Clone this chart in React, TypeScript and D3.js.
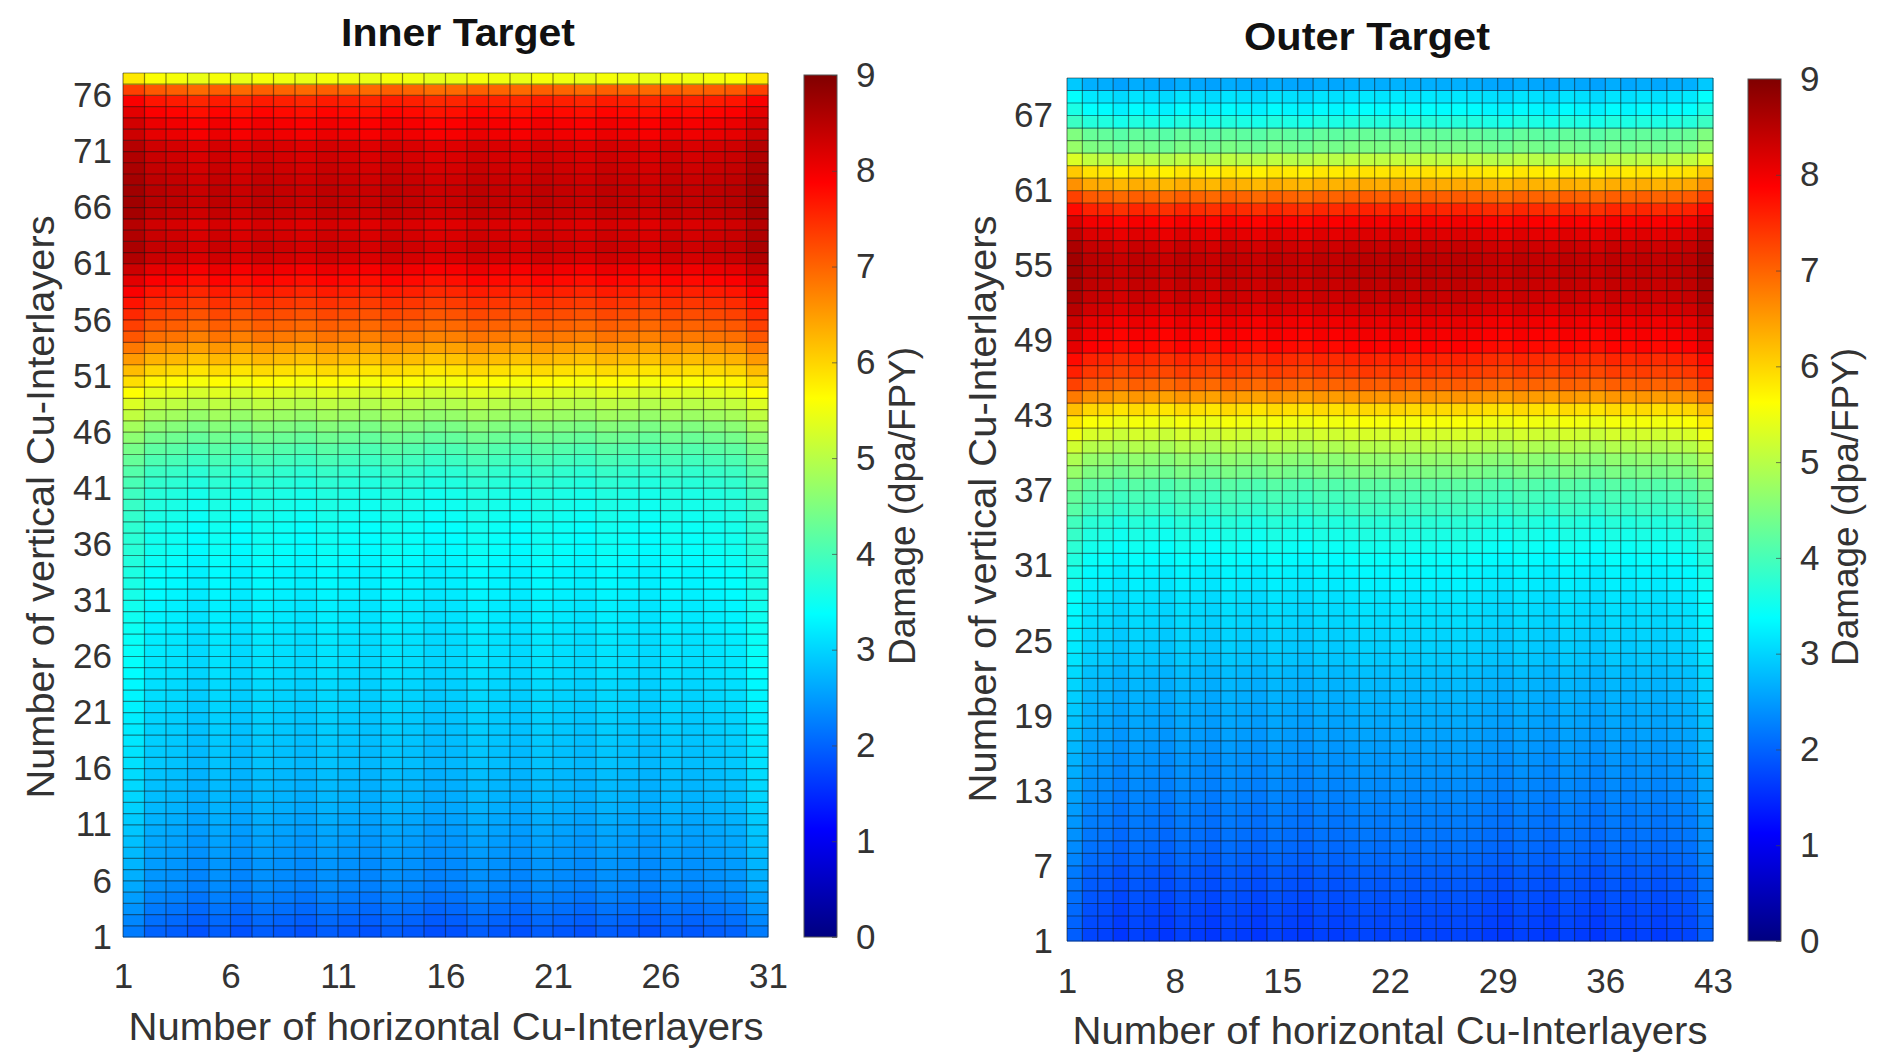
import React, { useEffect, useRef } from 'react';
import * as d3 from 'd3';

// damage per row (bottom row first)
const innerRows = [
  1.9, 2.0, 2.1, 2.2, 2.3, 2.35, 2.4, 2.45, 2.5, 2.55,
  2.6, 2.65, 2.7, 2.72, 2.75, 2.8, 2.82, 2.85, 2.88, 2.9,
  2.95, 2.98, 3.0, 3.05, 3.08, 3.1, 3.12, 3.15, 3.18, 3.2,
  3.25, 3.28, 3.3, 3.35, 3.4, 3.42, 3.45, 3.5, 3.55, 3.6,
  3.7, 3.8, 3.95, 4.1, 4.3, 4.5, 4.75, 5.0, 5.3, 5.6,
  5.9, 6.2, 6.5, 6.8, 7.0, 7.2, 7.4, 7.6, 7.8, 8.0,
  8.25, 8.3, 8.25, 8.2, 8.35, 8.4, 8.4, 8.35, 8.3, 8.25,
  8.2, 8.0, 7.95, 7.8, 7.6, 7.0, 5.5,
];
// deviation of each column from the row value
const innerCols = [
  0.32, 0.1, 0.05, -0.05, 0.05, -0.05, 0.05, 0, -0.05, 0.05,
  0, -0.05, 0.05, 0, -0.08, -0.05, 0.05, 0, -0.05, 0.05,
  0, -0.05, 0.05, 0, -0.05, 0.05, 0, 0.05, 0.1, 0.32,
];
const innerXTicks = [1, 6, 11, 16, 21, 26, 31];
const innerYTicks = [1, 6, 11, 16, 21, 26, 31, 36, 41, 46, 51, 56, 61, 66, 71, 76];

const outerRows = [
  1.65, 1.7, 1.75, 1.8, 1.85, 1.9, 2.0, 2.05, 2.1, 2.15,
  2.2, 2.25, 2.3, 2.35, 2.4, 2.45, 2.5, 2.55, 2.6, 2.65,
  2.7, 2.75, 2.85, 2.9, 2.95, 3.0, 3.05, 3.1, 3.2, 3.25,
  3.35, 3.45, 3.55, 3.65, 3.85, 3.95, 4.1, 4.4, 4.6, 4.9,
  5.2, 5.5, 5.9, 6.5, 7.0, 7.3, 7.5, 7.8, 7.9, 8.0,
  8.2, 8.3, 8.35, 8.4, 8.4, 8.3, 8.1, 7.9, 7.5, 7.0,
  6.3, 5.8, 5.0, 4.4, 4.2, 3.6, 3.3, 3.1, 2.6,
];
const outerCols = [
  0.3, 0.08, 0.05, -0.05, 0.05, 0, -0.05, 0.05, 0, -0.05,
  0.05, 0, -0.05, 0.05, 0, -0.05, 0.05, 0, 0.05, 0.08,
  0.05, 0.1, 0.05, 0.08, 0.05, 0.08, 0.05, 0, -0.05, 0.05,
  0, -0.05, 0.05, 0, -0.05, 0.05, 0, 0.05, 0, 0.05,
  0.08, 0.3,
];
const outerXTicks = [1, 8, 15, 22, 29, 36, 43];
const outerYTicks = [1, 7, 13, 19, 25, 31, 37, 43, 49, 55, 61, 67];

const cbarTicks = [0, 1, 2, 3, 4, 5, 6, 7, 8, 9];

// MATLAB jet
const jetStops = [0, 0.125, 0.375, 0.625, 0.875, 1];
const jetColors = ['#000080', '#0000ff', '#00ffff', '#ffff00', '#ff0000', '#800000'];

const textColor = '#333';
const font = 'Liberation Sans, Arial, sans-serif';

const panels = [
  {
    id: 'inner', title: 'Inner Target', rows: innerRows, cols: innerCols,
    xTicks: innerXTicks, yTicks: innerYTicks, xMax: 31, yMax: 78,
    left: 123, right: 768, top: 73, bottom: 937,
    xPad: 26, yPad: 11,
    titleX: 458, titleY: 46, titleLen: 234,
    xLabelX: 446, xLabelY: 1040,
    yLabelX: 54, yLabelY: 507, yLabelLen: 583,
    cbLeft: 804, cbRight: 837, cbTop: 75, cbBottom: 937,
    cbLabelX: 915, cbLabelY: 506,
  },
  {
    id: 'outer', title: 'Outer Target', rows: outerRows, cols: outerCols,
    xTicks: outerXTicks, yTicks: outerYTicks, xMax: 43, yMax: 70,
    left: 1067, right: 1713, top: 78, bottom: 941,
    xPad: 27, yPad: 14,
    titleX: 1367, titleY: 50, titleLen: 246,
    xLabelX: 1390, xLabelY: 1044,
    yLabelX: 996, yLabelY: 509, yLabelLen: 587,
    cbLeft: 1748, cbRight: 1781, cbTop: 79, cbBottom: 941,
    cbLabelX: 1858, cbLabelY: 507,
  },
];

const App = () => {
  const ref = useRef(null);

  useEffect(() => {
    const svg = d3.select(ref.current);
    svg.selectAll('*').remove();

    const color = d3.scaleLinear()
      .domain(jetStops.map(s => s * 9))
      .range(jetColors)
      .clamp(true);

    // colorbar gradient
    const grad = svg.append('defs').append('linearGradient')
      .attr('id', 'jet').attr('x1', 0).attr('x2', 0).attr('y1', 1).attr('y2', 0);
    jetStops.forEach((s, i) => {
      grad.append('stop').attr('offset', s).attr('stop-color', jetColors[i]);
    });

    panels.forEach(p => {
      const g = svg.append('g');
      const x = d3.scaleLinear().domain([1, p.xMax]).range([p.left, p.right]);
      const y = d3.scaleLinear().domain([1, p.yMax]).range([p.bottom, p.top]);

      const cells = [];
      p.rows.forEach((rv, j) => {
        p.cols.forEach((cv, i) => {
          cells.push({ i: i + 1, j: j + 1, v: rv + cv });
        });
      });

      g.append('g').selectAll('rect')
        .data(cells)
        .enter().append('rect')
        .attr('x', d => x(d.i))
        .attr('y', d => y(d.j + 1))
        .attr('width', d => x(d.i + 1) - x(d.i) + 0.5)
        .attr('height', d => y(d.j) - y(d.j + 1) + 0.5)
        .attr('fill', d => color(d.v));

      // cell edges
      const grid = g.append('g')
        .attr('stroke', '#111').attr('stroke-opacity', 0.5).attr('stroke-width', 1.2);
      d3.range(1, p.xMax + 1).forEach(v => {
        grid.append('line')
          .attr('x1', x(v)).attr('x2', x(v)).attr('y1', p.top).attr('y2', p.bottom);
      });
      d3.range(1, p.yMax + 1).forEach(v => {
        grid.append('line')
          .attr('x1', p.left).attr('x2', p.right).attr('y1', y(v)).attr('y2', y(v));
      });

      // axes
      const xAxis = g.append('g')
        .attr('transform', `translate(0,${p.bottom})`)
        .call(d3.axisBottom(x).tickValues(p.xTicks).tickSize(0).tickPadding(p.xPad));
      const yAxis = g.append('g')
        .attr('transform', `translate(${p.left},0)`)
        .call(d3.axisLeft(y).tickValues(p.yTicks).tickSize(0).tickPadding(p.yPad));
      [xAxis, yAxis].forEach(a => {
        a.select('.domain').remove();
        a.selectAll('text')
          .attr('font-size', 35).attr('font-family', font).attr('fill', textColor);
      });

      // colorbar
      const cy = d3.scaleLinear().domain([0, 9]).range([p.cbBottom, p.cbTop]);
      g.append('rect')
        .attr('x', p.cbLeft).attr('y', p.cbTop)
        .attr('width', p.cbRight - p.cbLeft).attr('height', p.cbBottom - p.cbTop)
        .attr('fill', 'url(#jet)')
        .attr('stroke', '#555').attr('stroke-width', 1);
      const cAxis = g.append('g')
        .attr('transform', `translate(${p.cbRight},0)`)
        .call(d3.axisRight(cy).tickValues(cbarTicks).tickSize(-5).tickPadding(19));
      cAxis.select('.domain').remove();
      cAxis.selectAll('line').attr('stroke', '#444').attr('stroke-opacity', 0.7);
      cAxis.selectAll('text')
        .attr('font-size', 35).attr('font-family', font).attr('fill', textColor);

      // labels
      g.append('text')
        .attr('x', p.titleX).attr('y', p.titleY)
        .attr('text-anchor', 'middle')
        .attr('font-size', 38).attr('font-weight', 'bold')
        .attr('font-family', font).attr('fill', '#111')
        .attr('textLength', p.titleLen).attr('lengthAdjust', 'spacingAndGlyphs')
        .text(p.title);

      g.append('text')
        .attr('x', p.xLabelX).attr('y', p.xLabelY)
        .attr('text-anchor', 'middle')
        .attr('font-size', 38).attr('font-family', font).attr('fill', textColor)
        .attr('textLength', 635).attr('lengthAdjust', 'spacingAndGlyphs')
        .text('Number of horizontal Cu-Interlayers');

      g.append('text')
        .attr('transform', `translate(${p.yLabelX},${p.yLabelY}) rotate(-90)`)
        .attr('text-anchor', 'middle')
        .attr('font-size', 38).attr('font-family', font).attr('fill', textColor)
        .attr('textLength', p.yLabelLen).attr('lengthAdjust', 'spacingAndGlyphs')
        .text('Number of vertical Cu-Interlayers');

      g.append('text')
        .attr('transform', `translate(${p.cbLabelX},${p.cbLabelY}) rotate(-90)`)
        .attr('text-anchor', 'middle')
        .attr('font-size', 36).attr('font-family', font).attr('fill', textColor)
        .attr('textLength', 318).attr('lengthAdjust', 'spacingAndGlyphs')
        .text('Damage (dpa/FPY)');
    });
  }, []);

  return (
    <svg ref={ref} width={1884} height={1063}
      style={{ position: 'absolute', left: 0, top: 0, background: '#fff' }}></svg>
  );
};

export default App;
